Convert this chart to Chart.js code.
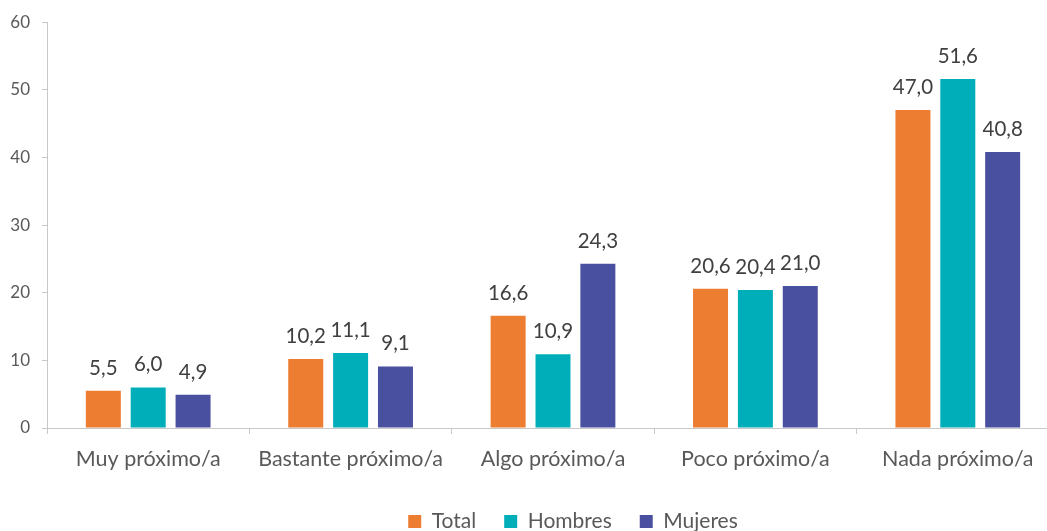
<!DOCTYPE html>
<html>
<head>
<meta charset="utf-8">
<script src="https://cdn.jsdelivr.net/npm/chart.js@4/dist/chart.umd.min.js"></script>
<style>
html,body{margin:0;padding:0;background:#fff;overflow:hidden;}
#wrap{position:relative;width:1146px;height:542px;}
</style>
</head>
<body>
<div id="wrap"><canvas id="c"></canvas></div>
<script>
const categories = ["Muy próximo/a", "Bastante próximo/a", "Algo próximo/a", "Poco próximo/a", "Nada próximo/a"];
const seriesNames = ["Total", "Hombres", "Mujeres"];
const totalValues = [5.5, 10.2, 16.6, 20.6, 47.0];
const hombresValues = [6.0, 11.1, 10.9, 20.4, 51.6];
const mujeresValues = [4.9, 9.1, 24.3, 21.0, 40.8];
const yTicks = [0, 10, 20, 30, 40, 50, 60];

const colors = ["#ED7D31", "#00AEBA", "#4A50A0"];
const FONT = "Lato, 'Open Sans', sans-serif";

const valueLabels = {
  id: 'valueLabels',
  afterDatasetsDraw(chart) {
    const ctx = chart.ctx;
    ctx.save();
    ctx.font = "20.5px " + FONT;
    ctx.fillStyle = "#404040";
    ctx.textAlign = "center";
    ctx.textBaseline = "alphabetic";
    chart.data.datasets.forEach((ds, i) => {
      const meta = chart.getDatasetMeta(i);
      meta.data.forEach((bar, j) => {
        const v = ds.data[j];
        ctx.fillText(v.toFixed(1).replace('.', ','), bar.x, bar.y - 16);
      });
    });
    ctx.restore();
  }
};

new Chart(document.getElementById('c'), {
  type: 'bar',
  data: {
    labels: categories,
    datasets: [
      {label: seriesNames[0], data: totalValues, backgroundColor: colors[0]},
      {label: seriesNames[1], data: hombresValues, backgroundColor: colors[1]},
      {label: seriesNames[2], data: mujeresValues, backgroundColor: colors[2]}
    ]
  },
  options: {
    responsive: true,
    maintainAspectRatio: false,
    animation: false,
    layout: {padding: {top: 21, right: 0, left: 0, bottom: 0}},
    datasets: {bar: {categoryPercentage: 0.665, barPercentage: 0.78}},
    plugins: {
      legend: {
        position: 'bottom',
        labels: {
          font: {family: FONT, size: 21},
          color: "#595959",
          boxWidth: 13,
          boxHeight: 13,
          padding: 28
        }
      },
      tooltip: {enabled: false}
    },
    scales: {
      x: {
        grid: {display: true, offset: true, drawOnChartArea: false, drawTicks: true, tickLength: 6, color: "#C8C8C8", lineWidth: 1},
        border: {display: true, color: "#C8C8C8", width: 1},
        ticks: {font: {family: FONT, size: 21.5}, color: "#595959", padding: 12, maxRotation: 0, autoSkip: false},
        afterFit(scale) { scale.height = 55; }
      },
      y: {
        min: 0, max: 60,
        afterBuildTicks(scale) { scale.ticks = yTicks.map(v => ({value: v})); },
        grid: {display: true, drawOnChartArea: false, drawTicks: true, tickLength: 5, color: "#C8C8C8"},
        border: {display: true, color: "#C8C8C8", width: 1},
        ticks: {font: {family: FONT, size: 17}, color: "#595959", padding: 12},
        afterFit(scale) { scale.width = 47; }
      },
      yRight: {
        position: 'right',
        min: 0, max: 60,
        grid: {display: false},
        border: {display: false},
        ticks: {display: false},
        afterFit(scale) { scale.width = 87; }
      }
    }
  },
  plugins: [valueLabels]
});
</script>
</body>
</html>
